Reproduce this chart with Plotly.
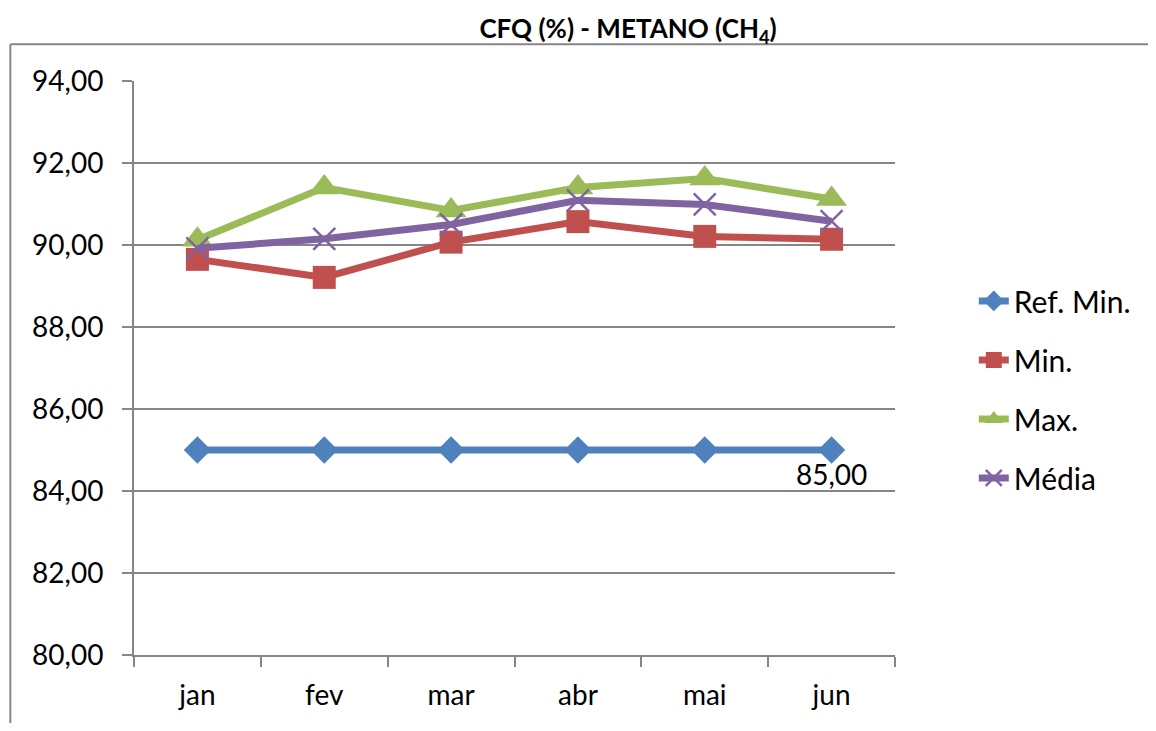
import plotly.graph_objects as go

months = ["jan", "fev", "mar", "abr", "mai", "jun"]
ref_min = [85.00, 85.00, 85.00, 85.00, 85.00, 85.00]
v_min = [89.65, 89.21, 90.07, 90.57, 90.21, 90.14]
v_max = [90.13, 91.40, 90.84, 91.40, 91.62, 91.12]
v_media = [89.92, 90.15, 90.50, 91.09, 90.99, 90.58]
ref_labels = ["", "", "", "", "", "85,00"]

FONT = "Lato"
GRAY = "#868686"
OFF = 8  # browser body margin
W, H = 1156 - 2 * OFF, 731 - 2 * OFF

fig = go.Figure()
fig.add_trace(go.Scatter(
    x=months, y=ref_min, name="Ref. Min.", mode="lines+markers+text",
    text=ref_labels, textposition="bottom center",
    textfont=dict(family=FONT, size=28, color="#000000"),
    line=dict(color="#4F81BD", width=7),
    marker=dict(symbol="diamond", size=21, color="#4F81BD"),
    legendgroup="a"))
fig.add_trace(go.Scatter(
    x=months, y=v_min, name="Min.", mode="lines+markers",
    line=dict(color="#C0504D", width=7),
    marker=dict(symbol="square", size=23, color="#C0504D"),
    legendgroup="b"))
fig.add_trace(go.Scatter(
    x=months, y=v_max, name="Max.", mode="lines+markers",
    line=dict(color="#9BBB59", width=7),
    marker=dict(symbol="triangle-up", size=27, color="#9BBB59"),
    legendgroup="c"))
fig.add_trace(go.Scatter(
    x=months, y=v_media, name="Média", mode="lines+markers",
    line=dict(color="#8064A2", width=7),
    marker=dict(symbol="x-thin-open", size=22, color="#8064A2",
                line=dict(color="#8064A2", width=2.5)),
    legendgroup="d"))

top_y = (658 - 44) / 577
left_x = (10 - 134) / 763
fig.update_layout(
    width=W, height=H,
    margin=dict(l=134 - OFF, r=W - (897 - OFF), t=81 - OFF, b=H - (658 - OFF)),
    paper_bgcolor="white", plot_bgcolor="white",
    separators=",.",
    font=dict(family=FONT, size=28, color="#000000"),
    title=dict(text="<b>CFQ (%) - METANO (CH<sub>4</sub>)</b>",
               x=(628 - OFF) / W, xanchor="center",
               y=1 - (29 - OFF) / H, yanchor="middle",
               font=dict(family=FONT, size=26, color="#000000")),
    showlegend=True,
    legend=dict(x=(976 - 134) / 763, xanchor="left", y=(658 - 391) / 577, yanchor="middle",
                traceorder="grouped", tracegroupgap=17,
                font=dict(family=FONT, size=30, color="#000000"),
                bgcolor="rgba(0,0,0,0)"),
    shapes=[
        dict(type="line", xref="paper", yref="paper",
             x0=left_x, x1=1.6, y0=top_y, y1=top_y,
             line=dict(color=GRAY, width=2), layer="below"),
        dict(type="line", xref="paper", yref="paper",
             x0=left_x, x1=left_x, y0=-0.4, y1=top_y,
             line=dict(color=GRAY, width=2), layer="below"),
    ],
)
fig.update_xaxes(
    type="category", range=[-0.5, 5.5], tickson="boundaries",
    ticks="outside", ticklen=10, tickcolor=GRAY, tickwidth=2,
    showline=True, linecolor=GRAY, linewidth=2, showgrid=False,
    ticklabelstandoff=14, tickfont=dict(family=FONT, size=28))
fig.update_yaxes(
    range=[80, 94], dtick=2, tickformat=".2f",
    ticks="outside", ticklen=10, tickcolor=GRAY, tickwidth=2,
    showline=True, linecolor=GRAY, linewidth=2,
    showgrid=True, gridcolor=GRAY, gridwidth=2, zeroline=False,
    ticklabelstandoff=13, tickfont=dict(family=FONT, size=28))

fig.write_html("out.html")
